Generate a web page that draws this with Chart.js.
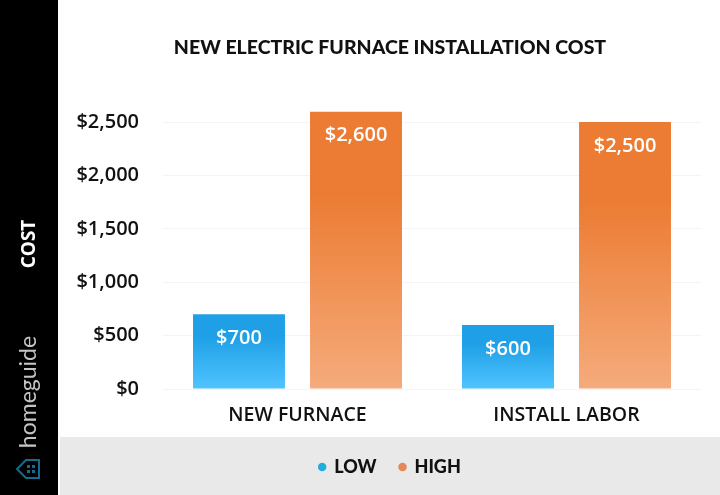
<!DOCTYPE html>
<html>
<head>
<meta charset="utf-8">
<title>New Electric Furnace Installation Cost</title>
<script src="https://cdn.jsdelivr.net/npm/chart.js"></script>
<style>
    html, body { margin: 0; padding: 0; background: #fff; }
    #wrap { position: relative; width: 720px; height: 495px; }
</style>
</head>
<body>
<div id="wrap"><canvas id="chart-container" width="720" height="495"></canvas></div>
<script>
var categories = ['NEW FURNACE', 'INSTALL LABOR'];
var lowValues = [700, 600];
var highValues = [2600, 2500];
var seriesNames = ['LOW', 'HIGH'];
var legendColors = ['#22ADDC', '#E5875A'];
var lowGradient = ['#1FA0E6', '#50C4FF'];
var highGradient = ['#EC7C33', '#F5AB7C'];
var yTicks = [0, 500, 1000, 1500, 2000, 2500];

var SIDEBAR_WIDTH = 58;
var BAND_TOP = 437;

function money(v) {
    return '$' + v.toLocaleString('en-US');
}

// vertical fade from the top of each bar down to the baseline
function barGradient(colors) {
    return function (context) {
        var chart = context.chart;
        if (!chart.chartArea || context.parsed === undefined) return colors[0];
        var y = chart.scales.y;
        var g = chart.ctx.createLinearGradient(0, y.getPixelForValue(context.parsed.y), 0, y.getPixelForValue(0));
        g.addColorStop(0, colors[0]);
        g.addColorStop(0.3, colors[0]);
        g.addColorStop(1, colors[1]);
        return g;
    };
}

// black side strip with axis name and logo, grey band behind the legend
var framePlugin = {
    id: 'frame',
    beforeDraw: function (chart) {
        var c = chart.ctx;
        c.save();
        c.fillStyle = '#e9e9e9';
        c.fillRect(SIDEBAR_WIDTH + 2, BAND_TOP, 720 - SIDEBAR_WIDTH - 2, 495 - BAND_TOP);
        c.fillStyle = '#000';
        c.fillRect(0, 0, SIDEBAR_WIDTH, 495);

        c.translate(30, 244);
        c.rotate(-Math.PI / 2);
        c.textAlign = 'center';
        c.textBaseline = 'middle';
        c.fillStyle = '#fff';
        c.font = 'bold 19px "Open Sans"';
        c.fillText('COST', 0, 0);
        c.restore();

        c.save();
        c.translate(29, 392);
        c.rotate(-Math.PI / 2);
        c.textAlign = 'center';
        c.textBaseline = 'middle';
        c.fillStyle = '#c4c4c4';
        c.font = '400 23px Lato';
        c.fillText('homeguide', 0, 0);
        c.restore();

        // house icon, roof pointing left
        c.save();
        c.strokeStyle = '#136C8E';
        c.lineWidth = 2;
        c.beginPath();
        c.moveTo(39, 460);
        c.lineTo(26, 460);
        c.lineTo(17, 469);
        c.lineTo(26, 478);
        c.lineTo(39, 478);
        c.closePath();
        c.stroke();
        c.fillStyle = '#136C8E';
        c.fillRect(27, 465, 3, 3);
        c.fillRect(32, 465, 3, 3);
        c.fillRect(27, 470, 3, 3);
        c.fillRect(32, 470, 3, 3);
        c.restore();
    }
};

// value printed inside the top of every bar
var barLabelPlugin = {
    id: 'barLabels',
    afterDatasetsDraw: function (chart) {
        var c = chart.ctx;
        c.save();
        c.textAlign = 'center';
        c.textBaseline = 'middle';
        c.fillStyle = '#fff';
        c.font = '600 20px "Open Sans"';
        chart.data.datasets.forEach(function (ds, i) {
            chart.getDatasetMeta(i).data.forEach(function (bar, j) {
                c.fillText(money(ds.data[j]), bar.x, bar.y + 24);
            });
        });
        c.restore();
    }
};

var ctx = document.getElementById('chart-container').getContext('2d');

new Chart(ctx, {
    type: 'bar',
    data: {
        labels: categories,
        datasets: [
            { label: seriesNames[0], data: lowValues, backgroundColor: barGradient(lowGradient) },
            { label: seriesNames[1], data: highValues, backgroundColor: barGradient(highGradient) }
        ]
    },
    options: {
        responsive: false,
        animation: false,
        categoryPercentage: 0.87,
        barPercentage: 0.786,
        layout: { padding: { left: 60, right: 0, top: 0, bottom: 9 } },
        scales: {
            x: {
                grid: { display: false },
                border: { display: false },
                ticks: {
                    color: '#111',
                    font: { family: 'Open Sans', size: 19.5, weight: '600' },
                    padding: 7,
                    maxRotation: 0
                },
                // right margin kept on the axis so title and legend centre on the full width
                afterFit: function (scale) {
                    scale.height = 46;
                    scale.paddingRight = 19;
                }
            },
            y: {
                min: 0,
                max: 2600,
                grid: { color: '#f4f4f4', drawTicks: false },
                border: { display: false },
                afterBuildTicks: function (scale) {
                    scale.ticks = yTicks.map(function (v) { return { value: v }; });
                },
                ticks: {
                    color: '#111',
                    font: { family: 'Open Sans', size: 20, weight: '600' },
                    padding: 24,
                    callback: function (v) { return money(v); }
                },
                afterFit: function (scale) { scale.width = 103; }
            }
        },
        plugins: {
            title: {
                display: true,
                text: 'NEW ELECTRIC FURNACE INSTALLATION COST',
                color: '#111',
                font: { family: 'Lato', size: 19.5, weight: '900' },
                padding: { top: 36, bottom: 52 }
            },
            legend: {
                position: 'bottom',
                labels: {
                    color: '#111',
                    font: { family: 'Lato', size: 18, weight: '900' },
                    usePointStyle: true,
                    boxWidth: 6,
                    boxHeight: 6,
                    padding: 23,
                    generateLabels: function () {
                        return seriesNames.map(function (name, i) {
                            return {
                                text: name,
                                fillStyle: legendColors[i],
                                strokeStyle: legendColors[i],
                                fontColor: '#111',
                                lineWidth: 0,
                                pointStyle: 'circle',
                                datasetIndex: i
                            };
                        });
                    }
                }
            },
            tooltip: { enabled: false }
        }
    },
    plugins: [framePlugin, barLabelPlugin]
});
</script>
</body>
</html>
